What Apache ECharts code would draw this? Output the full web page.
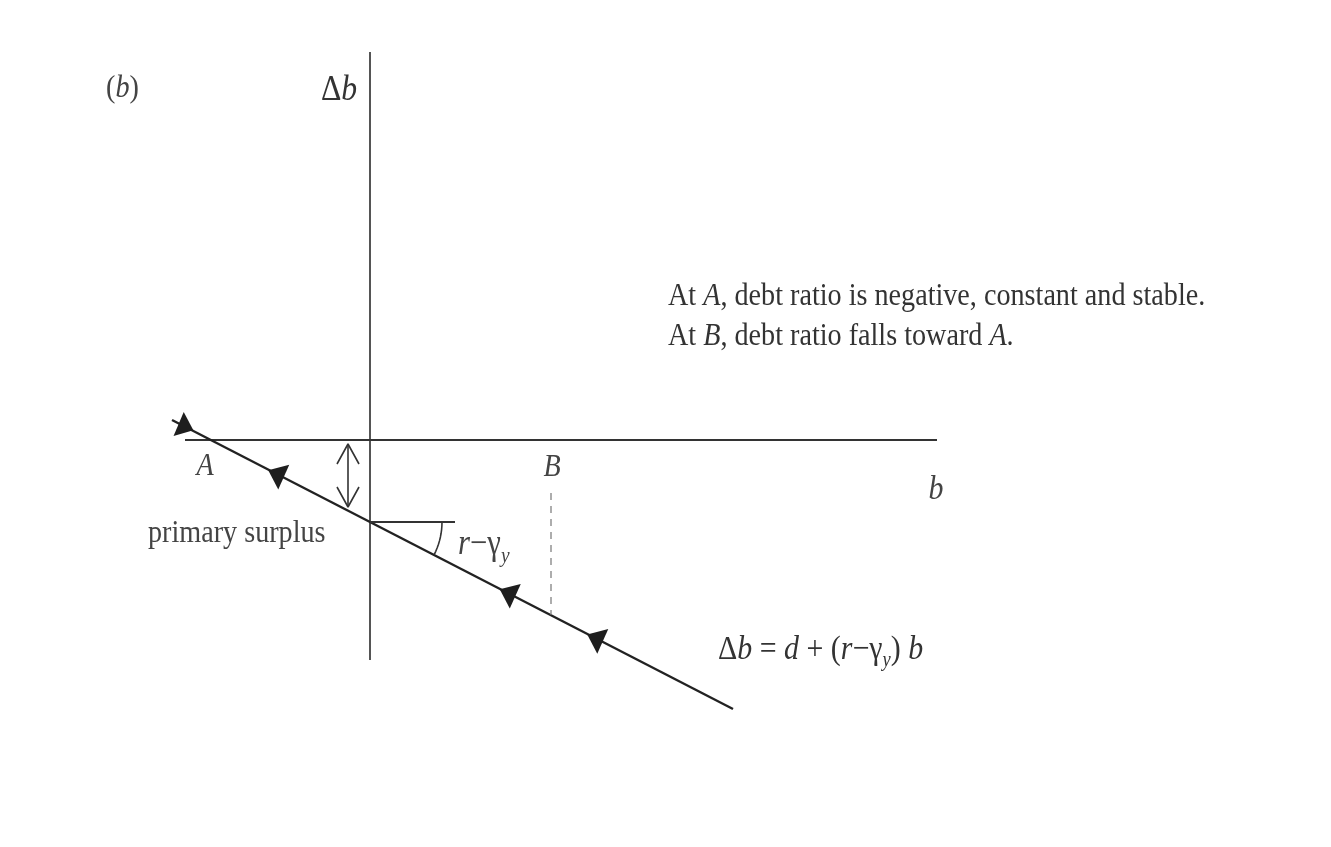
<!DOCTYPE html>
<html><head><meta charset="utf-8">
<script src="https://cdn.jsdelivr.net/npm/echarts@6/dist/echarts.min.js"></script>
<style>html,body{margin:0;padding:0;background:#fff}#c{width:1331px;height:847px}</style>
</head><body><div id="c"></div>
<script>
// Diagram geometry in data units (b on x, Δb on y); origin = axes crossing
const verticalAxisSeg = [[0, 3.88], [0, -2.20]];
const horizontalAxisSeg = [[-1.85, 0], [5.67, 0]];
const debtLine = [[-1.98, 0.20], [3.63, -2.69]];          // Δb = d + (r-γy) b
const interceptTick = [[0, -0.82], [0.85, -0.82]];
const pointBDashed = [[1.81, -0.53], [1.81, -1.75]];
const surplusArrow = [[-0.22, -0.04], [-0.22, -0.67]];
const arrowLeftPts = [[-0.94, -0.336], [1.375, -1.528], [2.25, -1.979]];
const arrowRightPts = [[-1.84, 0.128]];
const angleArcRadius = 0.72;
const angleArcDeg = [0, -27.2];

const ink = '#333';
const serif = '"Liberation Serif", "DejaVu Serif", serif';
const SX = 0.88;

const chart = echarts.init(document.getElementById('c'));

function arcPts() {
  const out = [];
  for (let a = angleArcDeg[0]; a >= angleArcDeg[1]; a -= 3) {
    const r = a * Math.PI / 180;
    out.push([interceptTick[0][0] + angleArcRadius * Math.cos(r), interceptTick[0][1] + angleArcRadius * Math.sin(r)]);
  }
  const r = angleArcDeg[1] * Math.PI / 180;
  out.push([angleArcRadius * Math.cos(r), interceptTick[0][1] + angleArcRadius * Math.sin(r)]);
  return out;
}
function vHead(p, dir) { // open V arrow head; dir=+1 pointing up, -1 down
  return [[p[0] - 0.11, p[1] - dir * 0.2], p, [p[0] + 0.11, p[1] - dir * 0.2]];
}
function seg(data, w, color, type) {
  return { type: 'line', data: data, showSymbol: false, symbol: 'none', silent: true,
    lineStyle: { color: color || ink, width: w, type: type || 'solid' }, z: 2 };
}
function txt(x, y, text, size, opts) {
  opts = opts || {};
  const fill = opts.fill || '#333';
  const rich = {
    i: { fontStyle: 'italic', fontSize: size, fontFamily: serif, fill: fill },
    s: { fontStyle: 'italic', fontSize: Math.round(size * 0.62), fontFamily: serif, fill: fill,
         padding: [Math.round(size * 0.62), 0, 0, 0] }
  };
  return { type: 'text', x: x, y: y, scaleX: SX,
    style: { text: text, font: (opts.italic ? 'italic ' : '') + size + 'px ' + serif, fill: fill,
      align: opts.align || 'left', verticalAlign: 'middle', rich: rich } };
}

const option = {
  animation: false,
  backgroundColor: '#fff',
  grid: { left: 0, right: 0, top: 0, bottom: 0 },
  xAxis: { type: 'value', min: -3.70, max: 9.61, show: false },
  yAxis: { type: 'value', min: -4.07, max: 4.40, show: false },
  series: [
    seg(verticalAxisSeg, 2, '#555'),
    seg(horizontalAxisSeg, 2, '#333'),
    seg(debtLine, 2.4, '#222'),
    seg(interceptTick, 2, '#333'),
    seg(pointBDashed, 1.2, '#777', [7, 6]),
    seg(surplusArrow, 1.6, '#333'),
    seg(vHead(surplusArrow[0], 1), 1.6, '#333'),
    seg(vHead(surplusArrow[1], -1), 1.6, '#333'),
    seg(arcPts(), 1.6, '#333'),
    { type: 'scatter', data: arrowLeftPts, symbol: 'triangle', symbolSize: [27, 17], symbolRotate: 66,
      itemStyle: { color: '#1e1e1e', opacity: 1 }, silent: true, z: 3 },
    { type: 'scatter', data: arrowRightPts, symbol: 'triangle', symbolSize: [26, 16], symbolRotate: -113,
      itemStyle: { color: '#1e1e1e', opacity: 1 }, silent: true, z: 3 }
  ],
  graphic: [
    txt(106, 89, '({i|b})', 32, { fill: '#444' }),
    txt(321, 91, 'Δ{i|b}', 36, { fill: '#333' }),
    txt(668, 297, 'At {i|A}, debt ratio is negative, constant and stable.', 32),
    txt(668, 337, 'At {i|B}, debt ratio falls toward {i|A}.', 32),
    txt(205, 467, 'A', 32, { italic: true, align: 'center', fill: '#444' }),
    txt(552, 468, 'B', 32, { italic: true, align: 'center', fill: '#444' }),
    txt(936, 490, 'b', 34, { italic: true, align: 'center', fill: '#444' }),
    txt(148, 534, 'primary surplus', 32, { fill: '#444' }),
    txt(458, 545, '{i|r}−γ{s|y}', 35, { fill: '#444' }),
    txt(718, 650, 'Δ{i|b} = {i|d} + ({i|r}−γ{s|y}) {i|b}', 34)
  ]
};
chart.setOption(option);
</script></body></html>
